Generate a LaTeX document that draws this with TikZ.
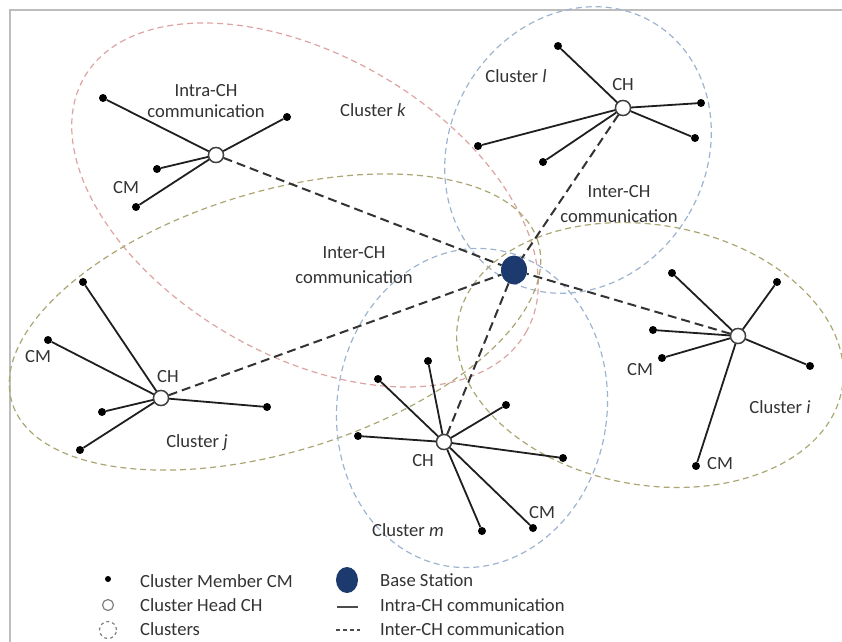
\documentclass[tikz,border=0pt]{standalone}
\usepackage{fontspec}
\setmainfont{Carlito}
\usetikzlibrary{shapes.geometric}
\definecolor{navy}{HTML}{1C3A6E}
\definecolor{clpink}{HTML}{DDA3A3}
\definecolor{clblue}{HTML}{9DB3CF}
\definecolor{clolive}{HTML}{ABA673}
\definecolor{framegray}{HTML}{BDBDBD}
\definecolor{ink}{HTML}{333333}
\begin{document}
\begin{tikzpicture}[x=1pt,y=-1pt,
  member/.style={circle,fill=black,inner sep=0pt,minimum size=8pt},
  head/.style={circle,draw=black!75,fill=white,line width=1.4pt,inner sep=0pt,minimum size=15pt},
  basest/.style={ellipse,fill=navy,inner sep=0pt,minimum width=26pt,minimum height=29pt},
  cluster/.style={line width=1.2pt,dash pattern=on 6pt off 4pt},
  intra/.style={line width=1.8pt,draw=black!88},
  inter/.style={line width=2pt,draw=black!80,dash pattern=on 9pt off 5pt},
  lbl/.style={text=ink,font=\fontsize{18.6}{21}\selectfont,inner sep=0pt,align=center},
  lbltwo/.style={lbl,font=\fontsize{18.6}{25}\selectfont}
]
\useasboundingbox (0,0) rectangle (842,641);
\clip (0,0) rectangle (842,641);

% outer frame
\draw[framegray,line width=2pt] (10,10) rectangle (900,700);

% cluster outlines
\draw[cluster,clpink,rotate around={-30:(305,205)}] (305,205) ellipse [x radius=255pt,y radius=150pt];
\draw[cluster,clblue,rotate around={-30:(578,150)}] (578,150) ellipse [x radius=128pt,y radius=148pt];
\draw[cluster,clolive,rotate around={17:(275,322)}] (275,322) ellipse [x radius=275pt,y radius=130pt];
\draw[cluster,clolive,rotate around={-10:(650,355)}] (650,355) ellipse [x radius=195pt,y radius=130pt];
\draw[cluster,clblue,rotate around={-8:(472,408)}] (472,408) ellipse [x radius=135pt,y radius=160pt];

% base station and cluster heads
\node[basest] (bs) at (514,270) {};
\node[head] (chk) at (216,155) {};
\node[head] (chl) at (623,108) {};
\node[head] (chi) at (738,336) {};
\node[head] (chj) at (161,398) {};
\node[head] (chm) at (444,442) {};

% cluster members
\node[member] (k1) at (103,98) {};
\node[member] (k2) at (287,117) {};
\node[member] (k3) at (157,169) {};
\node[member] (k4) at (136,207) {};

\node[member] (l1) at (558,46) {};
\node[member] (l2) at (701,103) {};
\node[member] (l3) at (695,138) {};
\node[member] (l4) at (478,146) {};
\node[member] (l5) at (543,162) {};

\node[member] (i1) at (672,273) {};
\node[member] (i2) at (777,282) {};
\node[member] (i3) at (653,330) {};
\node[member] (i4) at (662,358) {};
\node[member] (i5) at (810,366) {};
\node[member] (i6) at (696,466) {};

\node[member] (j1) at (83,282) {};
\node[member] (j2) at (48,340) {};
\node[member] (j3) at (102,412) {};
\node[member] (j4) at (80,450) {};
\node[member] (j5) at (267,407) {};

\node[member] (m1) at (378,379) {};
\node[member] (m2) at (358,436) {};
\node[member] (m3) at (428,361) {};
\node[member] (m4) at (506,405) {};
\node[member] (m5) at (563,458) {};
\node[member] (m6) at (482,531) {};
\node[member] (m7) at (533,528) {};

% inter-CH links to the base station
\foreach \c in {chk,chl,chi,chj,chm} \draw[inter] (\c) -- (bs);

% intra-CH links
\foreach \m in {k1,k2,k3,k4} \draw[intra] (chk) -- (\m);
\foreach \m in {l1,l2,l3,l4,l5} \draw[intra] (chl) -- (\m);
\foreach \m in {i1,i2,i3,i4,i5,i6} \draw[intra] (chi) -- (\m);
\foreach \m in {j1,j2,j3,j4,j5} \draw[intra] (chj) -- (\m);
\foreach \m in {m1,m2,m3,m4,m5,m6,m7} \draw[intra] (chm) -- (\m);

% redraw heads on top of the links
\foreach \c/\p in {chk/{(216,155)},chl/{(623,108)},chi/{(738,336)},chj/{(161,398)},chm/{(444,442)}}
  \node[head] at \p {};

% labels
\node[lbl] (tintra) at (206,101) {Intra-CH\\communication};
\node[lbl] (tck) at (373,110) {Cluster \textit{k}};
\node[lbl] (tkcm) at (126,188) {CM};
\node[lbltwo] (tinter1) at (354,265) {Inter-CH\\communication};
\node[lbl] (tcl) at (516,76) {Cluster \textit{l}};
\node[lbl] (tlch) at (623,85) {CH};
\node[lbltwo] (tinter2) at (619,204) {Inter-CH\\communication};
\node[lbl] (tjcm) at (38,357) {CM};
\node[lbl] (tjch) at (168,377) {CH};
\node[lbl] (tcj) at (197,443) {Cluster \textit{j}};
\node[lbl] (ticm1) at (640,370) {CM};
\node[lbl] (ticm2) at (720,464) {CM};
\node[lbl] (tci) at (780,407) {Cluster \textit{i}};
\node[lbl] (tmch) at (423,461) {CH};
\node[lbl] (tmcm) at (542,513) {CM};
\node[lbl] (tcm) at (408,530) {Cluster \textit{m}};

% legend
\node[member,minimum size=6pt] (lgcm) at (108,579) {};
\node[circle,draw=gray,line width=1.2pt,inner sep=0pt,minimum size=11pt] (lgch) at (108,605) {};
\node[circle,draw=gray,line width=1.2pt,dash pattern=on 3pt off 3pt,inner sep=0pt,minimum size=17pt] (lgcl) at (108,630) {};
\node[basest,minimum width=22pt,minimum height=26pt] (lgbs) at (347,580) {};
\coordinate (lgi1) at (337,607);
\coordinate (lgi2) at (358,607);
\draw[line width=1.3pt,black!70] (lgi1) -- (lgi2);
\coordinate (lge1) at (336,630);
\coordinate (lge2) at (360,630);
\draw[line width=1.3pt,black!70,dash pattern=on 4pt off 3pt] (lge1) -- (lge2);

\node[lbl,anchor=west] (tlg1) at (140,581) {Cluster Member CM};
\node[lbl,anchor=west] (tlg2) at (140,605) {Cluster Head CH};
\node[lbl,anchor=west] (tlg3) at (140,629) {Clusters};
\node[lbl,anchor=west] (tlg4) at (380,580) {Base Station};
\node[lbl,anchor=west] (tlg5) at (380,605) {Intra-CH communication};
\node[lbl,anchor=west] (tlg6) at (380,629) {Inter-CH communication};
\end{tikzpicture}
\end{document}
